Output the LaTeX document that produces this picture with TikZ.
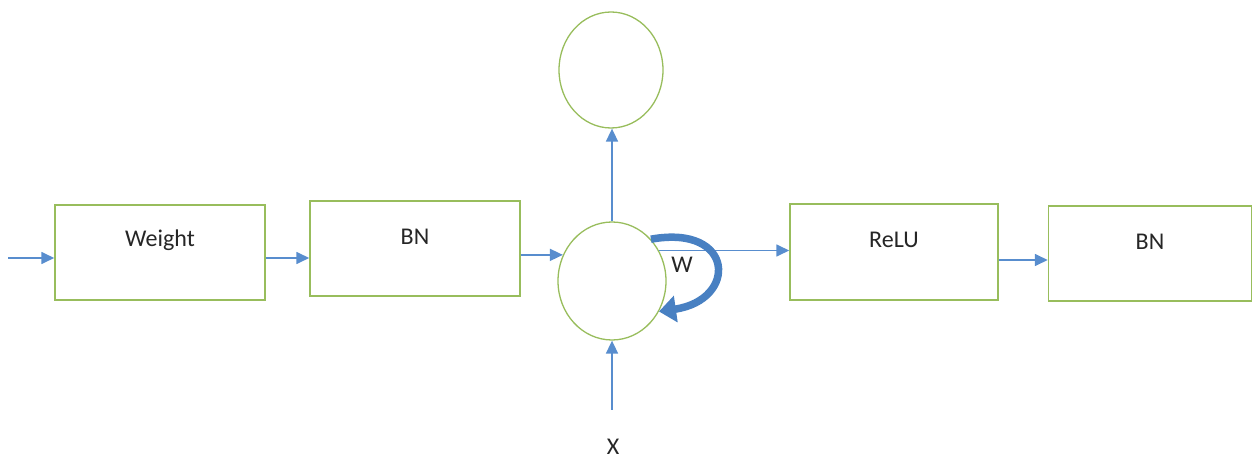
\documentclass[tikz,border=0pt]{standalone}
\usepackage{fontspec}
\setmainfont{Carlito}
\usetikzlibrary{arrows.meta,shapes.geometric}
\definecolor{boxgreen}{RGB}{152,189,92}
\definecolor{lineblue}{RGB}{88,141,206}
\definecolor{loopblue}{RGB}{72,128,194}
\begin{document}
\begin{tikzpicture}[x=1pt,y=-1pt,
  stage/.style={draw=boxgreen,line width=1.5pt,fill=white,rectangle,inner sep=0pt},
  unit/.style={draw=boxgreen,line width=1.3pt,fill=white,ellipse,inner sep=0pt},
  caption/.style={font=\fontsize{24}{28}\selectfont,text=black!85,yshift=12pt},
  txt/.style={font=\fontsize{24}{28}\selectfont,text=black!85,inner sep=0pt},
  arr/.style={draw=lineblue,line width=1.7pt,-{Triangle[length=13pt,width=12pt]}},
  loop/.style={draw=loopblue,line width=7.5pt,-{Triangle[length=17pt,width=26pt]}}]
  \useasboundingbox (0,0) rectangle (1254,462);

  % processing stages
  \node[stage,minimum width=210pt,minimum height=95pt,label={[caption]center:Weight}] (wt) at (160,252.5) {};
  \node[stage,minimum width=210pt,minimum height=95pt,label={[caption]center:BN}] (bn1) at (415,248.5) {};
  \node[stage,minimum width=208pt,minimum height=96pt,label={[caption]center:ReLU}] (relu) at (894,252) {};
  \node[stage,minimum width=203pt,minimum height=95pt,label={[caption]center:BN}] (bn2) at (1150,253.5) {};

  % recurrent unit and its output
  \node[unit,minimum width=108pt,minimum height=118pt] (c) at (612,281) {};
  \node[unit,minimum width=104pt,minimum height=116pt] (top) at (611,70) {};

  % free ends
  \coordinate (in) at (8,258);
  \coordinate (xs) at (612,410);
  \node[txt] (xl) at (613,447) {X};

  % connectors
  \draw[arr] (in) -- (in -| wt.west);
  \draw[arr] (wt.east |- in) -- (in -| bn1.west);
  \draw[arr] (bn1.east |- c.152) -- (c.152);
  \draw[arr] (c.north) -- (c.north |- top.south);
  \draw[arr] (c.33) -- (c.33 -| relu.west);
  \draw[arr] (relu.east |- 0,260) -- (bn2.west |- 0,260);
  \draw[arr] (xs) -- (c.south);

  % self-loop
  \draw[loop] (c.47) .. controls (735,224) and (738,300) .. (c.-33);
  \node[txt] (w) at (682,265) {W};
\end{tikzpicture}
\end{document}
